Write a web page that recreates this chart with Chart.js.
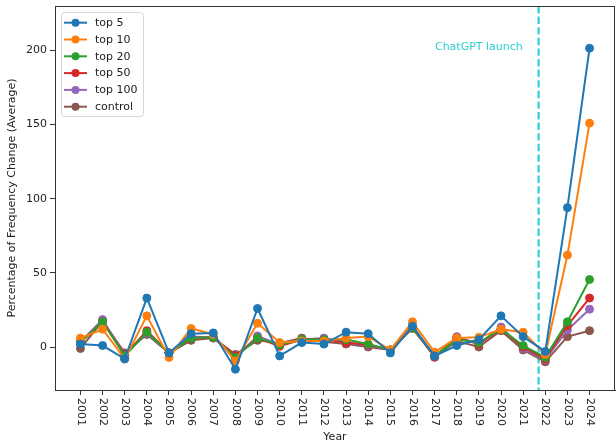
<!DOCTYPE html>
<html>
<head>
<meta charset="utf-8">
<script src="https://cdn.jsdelivr.net/npm/chart.js@4.4.0/dist/chart.umd.min.js"></script>
<style>
    html, body { margin: 0; padding: 0; background: #ffffff; }
</style>
</head>
<body>
<canvas id="chart" width="616" height="448"></canvas>
<script>
var years = [2001, 2002, 2003, 2004, 2005, 2006, 2007, 2008, 2009, 2010, 2011, 2012,
             2013, 2014, 2015, 2016, 2017, 2018, 2019, 2020, 2021, 2022, 2023, 2024];

var top5    = [2, 1, -8, 33, -4, 9, 9.5, -15, 26, -6, 3, 2, 10, 9, -4, 14, -6, 1, 5, 21, 7, -3, 94, 201.5];
var top10   = [6, 12, -8, 21, -7, 12.5, 8.5, -9.5, 16, 3, 4, 4, 6, 7, -2, 17, -3.5, 6, 6.5, 12, 10, -5, 62, 151];
var top20   = [3, 17, -6, 10, -4, 6, 6.5, -7, 6, 1.5, 5, 5, 5, 2, -2, 13, -6, 5, 3, 12, 1, -7, 17, 45.5];
var top50   = [3, 17, -5.5, 11, -4, 6, 6.5, -6, 6, 0.5, 5, 5, 3, 1.5, -2, 13, -6.5, 6, 2, 12, 0, -8, 14.5, 33];
var top100  = [3.5, 18.5, -5.5, 9.5, -4, 7, 6.5, -7, 7.5, 1.5, 5, 6, 3, 1, -2, 14.5, -7, 7, 2, 13.5, -1, -8.5, 11.5, 25.5];
var control = [-1, 17.5, -4, 8.5, -4, 4.5, 6, -5, 4.5, 2.5, 6, 3.5, 2, 0, -2, 12.5, -6.5, 4, 0, 11, -2, -10, 7, 11];

var seriesNames = ["top 5", "top 10", "top 20", "top 50", "top 100", "control"];
var yTicks = [0, 50, 100, 150, 200];
var launchYear = 2021.7;
var launchText = "ChatGPT launch";

var colors = ["#1f77b4", "#ff7f0e", "#2ca02c", "#d62728", "#9467bd", "#8c564b"];
var lineCyan = "#2ed0d0";
var fontFamily = '"DejaVu Sans", sans-serif';

function toPoints(values) {
    return values.map(function (v, i) { return { x: years[i], y: v }; });
}

var allSeries = [top5, top10, top20, top50, top100, control];
var datasets = allSeries.map(function (vals, i) {
    return {
        label: seriesNames[i],
        data: toPoints(vals),
        borderColor: colors[i],
        backgroundColor: colors[i],
        borderWidth: 2,
        pointRadius: 4,
        pointBorderWidth: 1,
        pointHoverRadius: 4,
        tension: 0
    };
});

// launch line + text, x labels, frame, legend
var extras = {
    id: "extras",
    beforeDatasetsDraw: function (chart) {
        var ctx = chart.ctx, area = chart.chartArea;
        var px = chart.scales.x.getPixelForValue(launchYear);
        ctx.save();
        ctx.strokeStyle = lineCyan;
        ctx.lineWidth = 2.2;
        ctx.setLineDash([7.4, 3.2]);
        ctx.beginPath();
        ctx.moveTo(px, area.top);
        ctx.lineTo(px, area.bottom);
        ctx.stroke();
        ctx.restore();
    },
    afterDraw: function (chart) {
        var ctx = chart.ctx, area = chart.chartArea;
        var xs = chart.scales.x, ys = chart.scales.y;
        ctx.save();

        // text
        ctx.font = "11px " + fontFamily;
        ctx.fillStyle = lineCyan;
        ctx.textAlign = "center";
        ctx.textBaseline = "alphabetic";
        ctx.fillText(launchText, xs.getPixelForValue(2019), ys.getPixelForValue(200));

        // x tick labels, rotated reading downwards
        ctx.fillStyle = "#222";
        ctx.textAlign = "left";
        ctx.textBaseline = "middle";
        years.forEach(function (yr) {
            var px = xs.getPixelForValue(yr);
            ctx.save();
            ctx.translate(px, area.bottom + 8);
            ctx.rotate(Math.PI / 2);
            ctx.fillText(String(yr), 0, 0);
            ctx.restore();
        });

        // frame
        ctx.strokeStyle = "#333";
        ctx.lineWidth = 1;
        ctx.strokeRect(Math.round(area.left) + 0.5, Math.round(area.top) + 0.5,
            Math.round(area.right - area.left) - 1, Math.round(area.bottom - area.top));

        // legend
        var bx = 61.5, by = 12.5, bw = 82, bh = 104, r = 3;
        ctx.beginPath();
        ctx.moveTo(bx + r, by);
        ctx.arcTo(bx + bw, by, bx + bw, by + bh, r);
        ctx.arcTo(bx + bw, by + bh, bx, by + bh, r);
        ctx.arcTo(bx, by + bh, bx, by, r);
        ctx.arcTo(bx, by, bx + bw, by, r);
        ctx.closePath();
        ctx.fillStyle = "rgba(255,255,255,0.8)";
        ctx.fill();
        ctx.strokeStyle = "#d6d6d6";
        ctx.stroke();

        ctx.font = "11px " + fontFamily;
        ctx.textAlign = "left";
        ctx.textBaseline = "middle";
        chart.data.datasets.forEach(function (ds, i) {
            var ly = 22.7 + i * 16.8;
            ctx.strokeStyle = ds.borderColor;
            ctx.lineWidth = 2;
            ctx.beginPath();
            ctx.moveTo(64, ly);
            ctx.lineTo(87, ly);
            ctx.stroke();
            ctx.fillStyle = ds.borderColor;
            ctx.beginPath();
            ctx.arc(75.5, ly, 4, 0, Math.PI * 2);
            ctx.fill();
            ctx.fillStyle = "#222";
            ctx.fillText(ds.label, 95, ly + 0.5);
        });
        ctx.restore();
    }
};

var chart = new Chart(document.getElementById("chart"), {
    type: "line",
    data: { datasets: datasets },
    options: {
        responsive: false,
        animation: false,
        events: [],
        layout: { autoPadding: false, padding: { top: 6, right: 1, left: 0, bottom: 0 } },
        plugins: {
            legend: { display: false },
            tooltip: { enabled: false }
        },
        scales: {
            x: {
                type: "linear",
                min: 1999.85,
                max: 2025.15,
                afterBuildTicks: function (scale) {
                    scale.ticks = years.map(function (v) { return { value: v }; });
                },
                afterFit: function (scale) {
                    scale.height = 58;
                    scale.paddingLeft = 0;
                    scale.paddingRight = 0;
                },
                ticks: { display: false },
                grid: { drawOnChartArea: false, tickLength: 5, tickColor: "#333", tickWidth: 1 },
                border: { display: true, color: "#333", width: 1 },
                title: {
                    display: true,
                    text: "Year",
                    color: "#222",
                    font: { family: fontFamily, size: 11 },
                    padding: { top: 0, bottom: 4 }
                }
            },
            y: {
                min: -29,
                max: 230,
                afterBuildTicks: function (scale) {
                    scale.ticks = yTicks.map(function (v) { return { value: v }; });
                },
                afterFit: function (scale) {
                    scale.width = 55;
                    scale.paddingTop = 0;
                    scale.paddingBottom = 0;
                },
                ticks: {
                    color: "#222",
                    padding: 3,
                    font: { family: fontFamily, size: 11 }
                },
                grid: { drawOnChartArea: false, tickLength: 5, tickColor: "#333", tickWidth: 1 },
                border: { display: true, color: "#333", width: 1 },
                title: {
                    display: true,
                    text: "Percentage of Frequency Change (Average)",
                    color: "#222",
                    font: { family: fontFamily, size: 11 },
                    padding: { top: 6, bottom: 0 }
                }
            }
        }
    },
    plugins: [extras]
});
</script>
</body>
</html>
